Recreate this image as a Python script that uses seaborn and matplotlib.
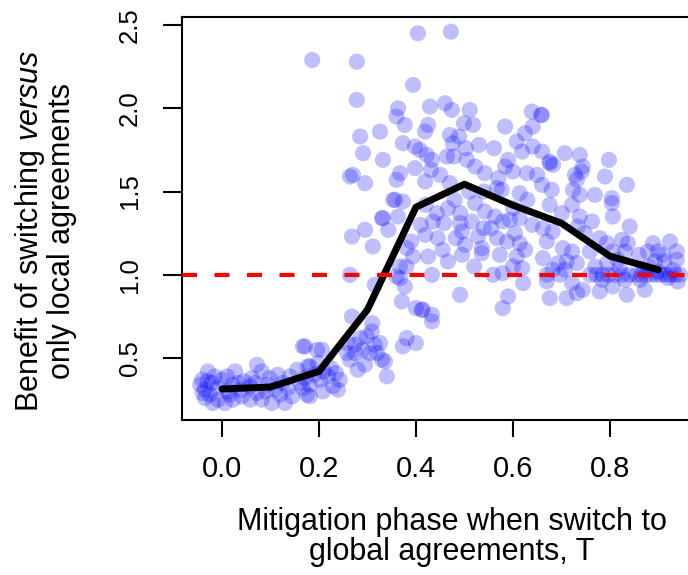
import pandas as pd
import seaborn as sns
import matplotlib.pyplot as plt

'''------------------------------ Data (read off the figure) -----------------------------------'''
# mean benefit per switching phase T
line_T = [0.0, 0.1, 0.2, 0.3, 0.4, 0.5, 0.6, 0.7, 0.8, 0.9]
line_benefit = [0.314, 0.326, 0.42, 0.79, 1.406, 1.544, 1.418, 1.31, 1.112, 1.03]

reference_level = 1.0

# individual runs (T jittered, benefit), grouped by switching phase
cloud_t0 = [(-0.041, 0.37), (-0.029, 0.42), (-0.045, 0.34), (-0.035, 0.31), (-0.025, 0.28),
            (-0.035, 0.26), (-0.019, 0.23), (-0.008, 0.25), (0.0, 0.37), (0.01, 0.39),
            (0.027, 0.42), (0.021, 0.34), (0.033, 0.35), (0.041, 0.27), (0.023, 0.25),
            (0.006, 0.23), (0.016, 0.28), (-0.021, 0.35), (-0.01, 0.32), (-0.03, 0.36),
            (0.04, 0.31), (0.012, 0.30), (-0.015, 0.39), (0.045, 0.36), (-0.04, 0.29)]
cloud_t1 = [(0.072, 0.46), (0.062, 0.38), (0.082, 0.42), (0.058, 0.33), (0.072, 0.29),
            (0.058, 0.25), (0.082, 0.25), (0.093, 0.34), (0.103, 0.23), (0.115, 0.40),
            (0.109, 0.31), (0.12, 0.28), (0.13, 0.23), (0.136, 0.32), (0.14, 0.39),
            (0.125, 0.35), (0.09, 0.30), (0.145, 0.27), (0.098, 0.38), (0.068, 0.35)]
cloud_t2 = [(0.155, 0.43), (0.167, 0.57), (0.161, 0.35), (0.171, 0.38), (0.177, 0.45),
            (0.181, 0.34), (0.175, 0.28), (0.198, 0.47), (0.196, 0.55), (0.181, 0.45),
            (0.202, 0.37), (0.219, 0.39), (0.229, 0.33), (0.208, 0.30), (0.181, 0.27),
            (0.243, 0.37), (0.239, 0.31), (0.167, 0.32), (0.171, 0.57), (0.206, 0.55),
            (0.21, 0.42), (0.225, 0.44), (0.19, 0.40), (0.235, 0.41), (0.186, 2.29)]
cloud_t3 = [(0.258, 0.59), (0.274, 0.53), (0.299, 0.63), (0.309, 0.66), (0.326, 0.59),
            (0.264, 0.49), (0.28, 0.43), (0.32, 0.53), (0.336, 0.48), (0.34, 0.39),
            (0.29, 0.55), (0.274, 0.58), (0.305, 0.53), (0.33, 0.49), (0.258, 0.53),
            (0.268, 0.75), (0.31, 0.71), (0.285, 0.62), (0.315, 0.58), (0.295, 0.46),
            (0.268, 1.23), (0.295, 1.27), (0.311, 1.17), (0.33, 1.34), (0.343, 1.27),
            (0.264, 1.0), (0.315, 0.94), (0.278, 2.28), (0.278, 2.05), (0.326, 1.86),
            (0.285, 1.83), (0.291, 1.73), (0.332, 1.69), (0.264, 1.59), (0.295, 1.55),
            (0.27, 1.60)]
cloud_t4 = [(0.357, 1.45), (0.373, 1.44), (0.36, 0.99), (0.377, 0.93), (0.371, 0.84),
            (0.40, 0.80), (0.381, 0.62), (0.373, 0.57), (0.40, 0.59), (0.404, 2.45),
            (0.394, 2.14), (0.363, 2.0), (0.36, 1.95), (0.429, 2.01), (0.377, 1.90),
            (0.419, 1.86), (0.425, 1.90), (0.373, 1.79), (0.398, 1.77), (0.408, 1.75),
            (0.422, 1.72), (0.367, 1.61), (0.398, 1.64), (0.433, 1.69), (0.431, 1.63),
            (0.36, 1.57), (0.419, 1.56), (0.353, 1.45), (0.332, 1.34), (0.363, 1.35),
            (0.381, 1.16), (0.394, 1.11), (0.425, 1.11), (0.367, 1.05), (0.367, 0.98),
            (0.412, 0.79), (0.433, 0.76), (0.433, 0.72), (0.414, 0.79), (0.419, 1.24),
            (0.445, 1.22), (0.435, 1.32), (0.443, 1.37), (0.433, 1.0), (0.41, 1.30),
            (0.39, 1.20), (0.42, 1.42), (0.38, 1.05)]
cloud_t5 = [(0.46, 2.03), (0.472, 2.46), (0.474, 1.99), (0.511, 1.99), (0.47, 1.84),
            (0.489, 1.83), (0.476, 1.79), (0.499, 1.91), (0.518, 1.90), (0.53, 1.78),
            (0.503, 1.76), (0.464, 1.71), (0.478, 1.71), (0.505, 1.69), (0.542, 1.61),
            (0.522, 1.65), (0.522, 1.43), (0.466, 1.40), (0.491, 1.37), (0.542, 1.38),
            (0.491, 1.31), (0.515, 1.32), (0.495, 1.26), (0.528, 1.23), (0.501, 1.18),
            (0.536, 1.16), (0.536, 1.13), (0.495, 1.12), (0.466, 1.08), (0.491, 0.88),
            (0.458, 1.31), (0.482, 1.22), (0.455, 1.15), (0.51, 1.50), (0.54, 1.50),
            (0.47, 1.55), (0.52, 1.05), (0.48, 1.45), (0.45, 1.60), (0.54, 1.28)]
cloud_t6 = [(0.584, 1.89), (0.639, 1.98), (0.658, 1.96), (0.641, 1.89), (0.625, 1.85),
            (0.608, 1.80), (0.561, 1.76), (0.59, 1.69), (0.619, 1.74), (0.641, 1.77),
            (0.629, 1.61), (0.60, 1.62), (0.584, 1.65), (0.577, 1.51), (0.567, 1.52),
            (0.614, 1.49), (0.563, 1.35), (0.579, 1.32), (0.594, 1.33), (0.614, 1.34),
            (0.567, 1.22), (0.588, 1.20), (0.604, 1.25), (0.614, 1.19), (0.573, 1.12),
            (0.625, 1.15), (0.608, 1.11), (0.619, 1.04), (0.559, 1.0), (0.579, 1.01),
            (0.621, 0.95), (0.59, 0.87), (0.579, 0.80), (0.6, 1.40), (0.63, 1.45),
            (0.555, 1.28), (0.64, 1.30), (0.6, 1.05), (0.57, 1.58), (0.65, 1.60)]
cloud_t7 = [(0.66, 1.74), (0.707, 1.73), (0.738, 1.72), (0.676, 1.68), (0.683, 1.66),
            (0.744, 1.65), (0.728, 1.60), (0.742, 1.62), (0.732, 1.57), (0.66, 1.54),
            (0.68, 1.51), (0.724, 1.51), (0.738, 1.48), (0.676, 1.42), (0.722, 1.42),
            (0.701, 1.37), (0.738, 1.35), (0.662, 1.28), (0.682, 1.26), (0.734, 1.29),
            (0.748, 1.25), (0.67, 1.20), (0.703, 1.16), (0.722, 1.14), (0.662, 1.10),
            (0.693, 1.07), (0.711, 1.08), (0.732, 1.07), (0.682, 1.03), (0.707, 1.03),
            (0.67, 1.0), (0.697, 1.0), (0.67, 0.96), (0.722, 0.95), (0.732, 0.89),
            (0.744, 0.91), (0.676, 0.86), (0.711, 0.86), (0.66, 1.96), (0.676, 1.67)]
cloud_t8 = [(0.798, 1.69), (0.79, 1.59), (0.835, 1.54), (0.769, 1.48), (0.804, 1.46),
            (0.804, 1.43), (0.763, 1.32), (0.806, 1.35), (0.841, 1.29), (0.779, 1.22),
            (0.794, 1.19), (0.825, 1.21), (0.837, 1.19), (0.759, 1.14), (0.806, 1.14),
            (0.831, 1.14), (0.794, 1.07), (0.816, 1.09), (0.759, 1.0), (0.772, 1.0),
            (0.785, 1.0), (0.797, 1.0), (0.81, 1.0), (0.825, 1.0), (0.84, 1.0),
            (0.784, 0.97), (0.806, 0.93), (0.831, 0.97), (0.779, 0.90), (0.835, 0.88),
            (0.77, 1.05), (0.82, 1.04)]
cloud_t9 = [(0.889, 1.19), (0.924, 1.20), (0.878, 1.14), (0.899, 1.14), (0.938, 1.14),
            (0.893, 1.08), (0.913, 1.08), (0.938, 1.09), (0.855, 1.0), (0.865, 1.0),
            (0.875, 1.0), (0.885, 1.0), (0.895, 1.0), (0.905, 1.0), (0.915, 1.0),
            (0.925, 1.0), (0.935, 1.0), (0.945, 1.0), (0.862, 0.97), (0.872, 0.91),
            (0.940, 0.96), (0.87, 1.03), (0.9, 1.02), (0.93, 1.03), (0.86, 1.12),
            (0.91, 1.12), (0.92, 0.98), (0.88, 1.05)]

x_ticks = [0.0, 0.2, 0.4, 0.6, 0.8]
y_ticks = [0.5, 1.0, 1.5, 2.0, 2.5]

x_label = "Mitigation phase when switch to\nglobal agreements, T"
y_label = "Benefit of switching $\\it{versus}$\nonly local agreements"

'''------------------------------ Build frames -----------------------------------'''
clouds = [cloud_t0, cloud_t1, cloud_t2, cloud_t3, cloud_t4,
          cloud_t5, cloud_t6, cloud_t7, cloud_t8, cloud_t9]
df = pd.DataFrame([p for c in clouds for p in c], columns=['T', 'benefit'])
df_line = pd.DataFrame({'T': line_T, 'benefit': line_benefit})

'''------------------------------ Style -----------------------------------'''
sns.set_style("white")
plt.rcParams['font.family'] = ['Liberation Sans', 'DejaVu Sans']
plt.rcParams['mathtext.fontset'] = 'custom'
plt.rcParams['mathtext.rm'] = 'Liberation Sans'
plt.rcParams['mathtext.it'] = 'Liberation Sans:italic'
plt.rcParams['text.color'] = 'black'
plt.rcParams['xtick.color'] = 'black'
plt.rcParams['ytick.color'] = 'black'

W, H = 688, 575
fig = plt.figure(figsize=(W / 100, H / 100), dpi=100)
# axes box runs past the right edge, like the cropped original
ax = fig.add_axes([182 / W, 155 / H, 520 / W, 403 / H])

sns.scatterplot(data=df, x='T', y='benefit', ax=ax,
                color='blue', alpha=0.25, s=135, edgecolor='none',
                legend=False, zorder=2)

sns.lineplot(data=df_line, x='T', y='benefit', ax=ax,
             color='black', lw=5, solid_capstyle='round', zorder=3)

ax.axhline(reference_level, color='red', lw=3, dashes=(3.6, 4.2), zorder=4)

ax.set_xlim(-0.0825, 0.99)
ax.set_ylim(0.128, 2.548)

ax.set_xticks(x_ticks)
ax.set_xticklabels(['{:.1f}'.format(v) for v in x_ticks], fontsize=21)
ax.set_yticks(y_ticks)
ax.set_yticklabels(['{:.1f}'.format(v) for v in y_ticks], fontsize=18.5,
                   rotation=90, va='center')

ax.tick_params(axis='x', bottom=True, direction='out', length=12, width=1.5, pad=13,
               labelcolor='black')
ax.tick_params(axis='y', left=True, direction='out', length=14, width=1.5, pad=15,
               labelcolor='black')

for s in ax.spines.values():
  s.set_color('black')
  s.set_linewidth(1.5)

ax.set_xlabel('')
ax.set_ylabel('')

fig.text(452 / W, 1 - 537 / H, x_label, ha='center', va='center',
         fontsize=22, linespacing=0.98, color='black')
fig.text(45 / W, 1 - 231 / H, y_label, ha='center', va='center',
         rotation=90, fontsize=22, linespacing=1.0, multialignment='center',
         color='black')

fig.savefig('out.png', dpi=100)
